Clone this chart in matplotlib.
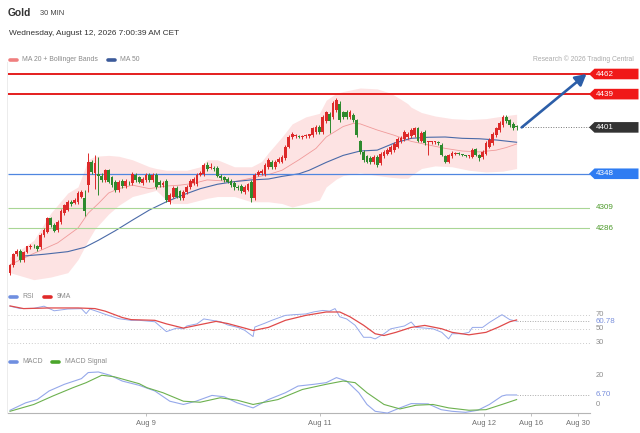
import matplotlib
matplotlib.use("Agg")
import matplotlib.pyplot as plt
from matplotlib.patches import Polygon
import numpy as np

plt.rcParams['font.family'] = ['Liberation Sans', 'DejaVu Sans']

# ---------------- data ----------------
title = "Gold"
timeframe = "30 MIN"
timestamp = "Wednesday, August 12, 2026 7:00:39 AM CET"
credit = "Research \u00a9 2026 Trading Central"

opens = [4235, 4244, 4256, 4260, 4249, 4259, 4264, 4266, 4265, 4264,
         4278, 4282, 4297, 4290, 4284, 4293, 4303, 4307, 4316, 4315,
         4316, 4322, 4320, 4335, 4362, 4349, 4348, 4346, 4341, 4352,
         4344, 4339, 4329, 4340, 4334, 4338, 4337, 4347, 4344, 4337,
         4341, 4347, 4341, 4347, 4339, 4335, 4340, 4316, 4322, 4332,
         4328, 4320, 4327, 4333, 4337, 4336, 4347, 4348, 4358, 4355,
         4355, 4355, 4346, 4344, 4342, 4340, 4337, 4333, 4334, 4327,
         4330, 4339, 4320, 4347, 4349, 4348, 4356, 4362, 4356, 4362,
         4362, 4366, 4379, 4390, 4391, 4391, 4390, 4391, 4391, 4392,
         4396, 4402, 4396, 4408, 4416, 4413, 4421, 4428, 4418, 4419,
         4413, 4415, 4409, 4385, 4373, 4368, 4366, 4361, 4367, 4360,
         4368, 4371, 4373, 4375, 4379, 4385, 4388, 4390, 4391, 4392,
         4400, 4386, 4396, 4384, 4384, 4384, 4384, 4381, 4368, 4362,
         4368, 4371, 4371, 4370, 4369, 4368, 4367.5, 4376, 4369.5, 4367,
         4371, 4379, 4383, 4392, 4398, 4404, 4413, 4409, 4405, 4403]
highs = [4245, 4257, 4262, 4262, 4260, 4266, 4268, 4268, 4267, 4280,
         4286, 4299, 4299, 4292, 4295, 4308, 4314, 4318, 4318, 4320,
         4328, 4329, 4329, 4372, 4364, 4370, 4367, 4349, 4354, 4354,
         4346, 4341, 4341, 4342, 4342, 4340, 4350, 4349, 4346, 4344,
         4349, 4349, 4349, 4349, 4341, 4340, 4342, 4326, 4334, 4334,
         4330, 4329, 4335, 4342, 4344, 4349, 4351, 4360, 4361, 4360,
         4357, 4357, 4348, 4346, 4344, 4342, 4340, 4335, 4336, 4335,
         4338, 4341, 4349, 4352, 4353, 4360, 4366, 4364, 4364, 4367,
         4369, 4381, 4392, 4396, 4393, 4392, 4392, 4393, 4394, 4402,
         4404, 4404, 4415, 4420, 4418, 4431, 4435, 4431, 4420, 4421,
         4421, 4417, 4411, 4387, 4375, 4370, 4368, 4369, 4369, 4373,
         4375, 4377, 4381, 4384, 4390, 4391, 4398, 4396, 4400, 4402,
         4402, 4397, 4398, 4386, 4386, 4386, 4385, 4383, 4370, 4371,
         4374, 4373, 4373, 4371, 4370, 4370, 4377, 4378, 4371, 4375,
         4385, 4389, 4396, 4402, 4408, 4415, 4415, 4411, 4407, 4404]
lows = [4232, 4241, 4254, 4247, 4247, 4257, 4262, 4263, 4260, 4262,
        4276, 4280, 4287, 4281, 4282, 4291, 4301, 4305, 4311, 4313,
        4314, 4320, 4300, 4327, 4348, 4331, 4324, 4339, 4339, 4337,
        4333, 4327, 4327, 4332, 4332, 4335, 4335, 4339, 4337, 4335,
        4339, 4339, 4339, 4331, 4333, 4333, 4316, 4313, 4320, 4320,
        4318, 4318, 4325, 4331, 4335, 4334, 4345, 4346, 4351, 4353,
        4351, 4344, 4341, 4339, 4337, 4333, 4330, 4329, 4326, 4325,
        4328, 4316, 4318, 4345, 4347, 4346, 4354, 4354, 4354, 4360,
        4360, 4364, 4377, 4388, 4389, 4389, 4388, 4389, 4389, 4390,
        4394, 4394, 4394, 4406, 4395, 4411, 4419, 4407, 4411, 4411,
        4411, 4407, 4390, 4371, 4362, 4360, 4359, 4359, 4356, 4358,
        4366, 4369, 4371, 4373, 4377, 4383, 4386, 4388, 4389, 4390,
        4384, 4384, 4381, 4370, 4382, 4382, 4381, 4368, 4360, 4360,
        4366, 4370, 4369, 4368, 4367, 4366, 4366, 4368, 4363, 4365,
        4369, 4377, 4381, 4390, 4396, 4402, 4406, 4402, 4398, 4398]
closes = [4244, 4256, 4260, 4249, 4259, 4265, 4266, 4265, 4262, 4278,
          4284, 4297, 4289, 4283, 4293, 4306, 4312, 4316, 4313, 4318,
          4326, 4327, 4305, 4362, 4350, 4360, 4345, 4341, 4352, 4339,
          4335, 4329, 4339, 4334, 4340, 4337, 4348, 4341, 4339, 4342,
          4347, 4341, 4347, 4333, 4335, 4338, 4318, 4324, 4332, 4322,
          4320, 4327, 4333, 4340, 4342, 4347, 4349, 4358, 4353, 4356,
          4353, 4346, 4343, 4341, 4339, 4335, 4333, 4332, 4328, 4333,
          4336, 4320, 4347, 4350, 4351, 4358, 4364, 4356, 4362, 4365,
          4367, 4379, 4390, 4394, 4391, 4390, 4391, 4392, 4393, 4400,
          4402, 4396, 4413, 4418, 4408, 4429, 4432, 4409, 4413, 4413,
          4419, 4409, 4392, 4373, 4364, 4362, 4361, 4367, 4358, 4371,
          4373, 4375, 4379, 4382, 4388, 4389, 4396, 4394, 4398, 4400,
          4386, 4395, 4383, 4385, 4384, 4385, 4383, 4370, 4362, 4369,
          4372, 4371.5, 4370.5, 4369.5, 4368, 4368.5, 4375, 4370, 4366, 4373,
          4383, 4387, 4394, 4400, 4406, 4413, 4408, 4404, 4400, 4401]

band_idx = [0, 7, 12, 17, 20, 23, 25, 29, 32, 36, 41, 43, 46, 48, 52, 56, 58, 61,
            66, 71, 74, 76, 80, 83, 87, 91, 93, 96, 98, 103, 108, 112, 115, 117,
            118, 121, 125, 130, 135, 140, 145, 149]
band_upper = [4253, 4272, 4303, 4326, 4333, 4364, 4368, 4369, 4368, 4364, 4356, 4354,
              4352, 4352, 4352, 4356, 4364, 4364, 4356, 4356, 4362, 4372, 4390, 4405,
              4413, 4417, 4432, 4440, 4442, 4446, 4445, 4440, 4433, 4428, 4424, 4418,
              4414, 4411, 4410, 4411, 4414, 4416]
band_lower = [4235, 4227, 4230, 4235, 4250, 4272, 4285, 4302, 4312, 4322, 4327, 4329,
              4318, 4314, 4314, 4318, 4320, 4322, 4322, 4316, 4316, 4316, 4314, 4310,
              4314, 4318, 4333, 4342, 4346, 4349, 4346, 4344, 4343, 4343, 4346, 4354,
              4357, 4356, 4352, 4350, 4351, 4354]

ma20_idx = [0, 7, 14, 20, 23, 26, 29, 32, 36, 41, 46, 50, 54, 58, 62, 66, 71, 76, 80,
            85, 90, 93, 98, 101, 103, 108, 113, 118, 123, 128, 133, 138, 143, 146, 149]
ma20 = [4244, 4257, 4269, 4286, 4303, 4314, 4326, 4331, 4335, 4331, 4334, 4335, 4337,
        4341, 4340, 4339, 4343, 4347, 4352, 4364, 4377, 4390, 4402, 4405.6, 4405, 4398,
        4392, 4385, 4381, 4377, 4374, 4373, 4375, 4378, 4382]

ma50_idx = [4, 10, 17, 22, 26, 31, 36, 41, 46, 51, 56, 61, 66, 71, 76, 80, 85, 88, 93,
            98, 103, 108, 113, 118, 123, 128, 133, 138, 143, 149]
ma50 = [4254, 4256, 4259, 4264, 4272, 4283, 4295, 4306.6, 4316, 4324, 4331, 4336, 4339,
        4341, 4342, 4345, 4348, 4352, 4361, 4369, 4374, 4375, 4383, 4388.5, 4389.7, 4390,
        4388.5, 4388, 4386.6, 4384]

level_values = [4462, 4439, 4401, 4348, 4309, 4286]
level_kinds = ["resistance", "resistance", "last", "pivot", "support", "support"]
target_level = 4462

rsi_idx = [0, 3, 7, 10, 13, 17, 21, 22.4, 23.5, 26, 28, 32, 35.6, 38, 42.6, 46, 49, 51,
           52, 55, 57, 59.4, 62, 64, 67, 69, 71.5, 72, 75, 77, 81, 83.5, 87, 89.4, 92,
           94, 95.6, 97, 99, 101.5, 104, 106, 107.4, 110, 112, 116, 118, 119.4, 122,
           124.4, 127, 129, 130, 133, 135, 136, 139, 141, 144.7, 147, 149]
rsi = [82, 78.6, 79, 82, 75.5, 78, 78.5, 71.5, 78, 74, 70.5, 64.3, 62, 62, 60, 46, 51,
       50, 54, 57, 64, 62, 60, 55.5, 52, 48, 39, 52.5, 58, 62, 69, 70, 71, 74, 76, 75,
       78.6, 67, 64, 55, 38, 38, 35.7, 43, 50, 54, 59.6, 52, 51, 50, 45, 35.7, 43, 43,
       45, 52, 52, 59, 70, 63, 60.8]
ma9_idx = [0, 4, 11.5, 20, 25, 28, 33, 35.6, 42.6, 46, 51, 55, 60.6, 64, 69, 71.5, 76,
           81, 87, 93, 97, 100, 104, 107.4, 110, 113.5, 118, 122, 127, 130, 135, 140,
           143.5, 147, 149]
ma9 = [82.4, 78.6, 79.5, 79.5, 78.6, 75, 66, 63, 62, 57, 51, 55, 60.5, 57.5, 51, 47.6,
       52, 62, 69, 73.8, 73.8, 67, 55, 43, 40.5, 45, 52, 54.8, 50, 45, 41.5, 45, 52, 60,
       62.5]
rsi_last = 60.78
rsi_grid = [70, 50, 30]

macd_idx = [0, 4.6, 8, 11.5, 16, 21, 23, 26, 29.4, 33, 38, 42.6, 47, 51, 54.7, 59.4, 63,
            66.8, 71.5, 76, 81, 84.7, 89.4, 93, 96, 99, 102.6, 105, 107.4, 111, 114.7,
            118, 123, 126.8, 130, 134, 137.6, 141, 144.7, 146, 149]
macd = [-3.6, 1.4, 3.6, 9.4, 13.9, 17.7, 21.8, 22.2, 20, 16.1, 13.2, 9.4, 2.5, 0.3, 2.5,
        6.4, 5.5, 1.4, -2, 3.6, 8.2, 12.7, 13.9, 15, 18.4, 16.1, 8.2, 0.3, -4.3, -5.5,
        -2, 0.9, 0.7, -3.2, -4.3, -5, -3.6, 0.3, 6, 6.7, 6.7]
signal_idx = [0, 7, 12.6, 18.5, 22.4, 27, 30.6, 38, 40.3, 45, 51, 55.9, 61.8, 66.8, 71.5,
              78.8, 86, 93, 98, 101.5, 105, 110, 114.7, 119.4, 124.4, 129, 135, 140,
              144.7, 149]
signal = [-4.3, 0.3, 6, 11.6, 15, 20, 19, 14.3, 11.6, 8.2, 2.5, 1.8, 4.8, 3.2, 0.3, 3.6,
          10.4, 13.9, 16.1, 15, 8.2, 0.3, -2.7, -0.2, 0.3, -2, -3.6, -3.2, 0.3, 3.6]
macd_last = 6.70
macd_grid = [20, 0]

date_ticks = [40, 91.2, 139.4, 153.2, 167]
date_labels = ["Aug 9", "Aug 11", "Aug 12", "Aug 16", "Aug 30"]

# ---------------- layout ----------------
W, H = 640, 433
X_LEFT, X_RIGHT = 8, 590
STEP, FIRST = 3.4, 10


def xd(px):
    return (px - FIRST) / STEP


XLIM = (xd(X_LEFT), xd(X_RIGHT))

fig = plt.figure(figsize=(W / 100, H / 100), dpi=100)
fig.patch.set_facecolor("white")


def panel(top, bottom, ylim):
    a = fig.add_axes([X_LEFT / W, 1 - bottom / H, (X_RIGHT - X_LEFT) / W, (bottom - top) / H])
    a.set_facecolor("none")
    a.set_xlim(*XLIM)
    a.set_ylim(*ylim)
    for s in a.spines.values():
        s.set_visible(False)
    a.set_xticks([])
    a.set_yticks([])
    return a


ax = panel(62, 285, (4220.9, 4475.7))
ax_rsi = panel(298, 350, (20, 93.6))
ax_macd = panel(365, 413, (-5.45, 26.9))

ov = fig.add_axes([0, 0, 1, 1], zorder=5)
ov.set_xlim(0, W)
ov.set_ylim(H, 0)
ov.axis("off")


def ypx(a, v):
    return H - a.transData.transform((0, v))[1]


# ---------------- header ----------------
ov.text(8, 13.5, title, fontsize=7.4, fontweight="bold", color="#333333", va="center")
ov.text(39.5, 13.5, timeframe, fontsize=5.4, color="#444444", va="center")
ov.text(9, 33.5, timestamp, fontsize=5.95, color="#333333", va="center")


def swatch(x, y, color):
    ov.plot([x, x + 6.5], [y, y], color=color, lw=2.6, solid_capstyle="round")


swatch(10, 59.5, "#f07f7f")
ov.text(22.5, 59.5, "MA 20 + Bollinger Bands", fontsize=4.95, color="#8a8a8a", va="center")
swatch(108, 59.5, "#3c5a9a")
ov.text(120.5, 59.5, "MA 50", fontsize=4.95, color="#8a8a8a", va="center")
ov.text(634, 59.5, credit, fontsize=4.9, color="#ababab", va="center", ha="right")

# faint left frame line
ov.plot([7, 7], [62, 413], color="#ececec", lw=0.7)

# ---------------- main price panel ----------------
x = np.arange(len(closes))
o = np.array(opens, float)
c = np.array(closes, float)
hi = np.array(highs, float)
lo = np.array(lows, float)
up = c >= o
cols = np.where(up, "#dd2a2a", "#2e8a2e")

ax.fill_between(band_idx, band_lower, band_upper, color="#fde3e3", lw=0, zorder=1)
ax.plot(ma20_idx, ma20, color="#f09a9a", lw=0.6, zorder=2)
ax.plot(ma50_idx, ma50, color="#4a6aa8", lw=0.8, zorder=2)

ax.vlines(x, lo, hi, colors=cols, lw=0.7, zorder=3)
ax.bar(x, np.maximum(np.abs(c - o), 1.0), bottom=np.minimum(o, c), width=0.85,
       color=cols, lw=0, zorder=4)

line_style = {
    "resistance": dict(color="#e41e1e", lw=1.4),
    "pivot": dict(color="#4f86e0", lw=0.9),
    "support": dict(color="#a9d695", lw=0.8),
}
box_color = {"resistance": "#f01818", "last": "#333333", "pivot": "#2f7cf2"}

for val, kind in zip(level_values, level_kinds):
    if kind == "last":
        ax.hlines(val, len(closes) - 1 + 1.0, XLIM[1], colors="#777777", lw=0.7,
                  linestyles=(0, (1, 1.6)), zorder=2)
    else:
        ax.hlines(val, XLIM[0], XLIM[1], zorder=2, **line_style[kind])
    yy = ypx(ax, val)
    if kind == "support":
        ov.text(595.5, yy, f"{val}", fontsize=5.8, color="#4c9a2a", va="center")
    else:
        poly = Polygon([(589, yy), (594.5, yy - 5.3), (638.5, yy - 5.3), (638.5, yy + 5.3),
                        (594.5, yy + 5.3)], closed=True, fc=box_color[kind], ec="none")
        ov.add_patch(poly)
        ov.text(596, yy + 0.2, f"{val}", fontsize=5.8, color="white", va="center")

ax.annotate("", xy=(xd(586.5), target_level), xytext=(len(closes) - 1 + 1.5, closes[-1]),
            arrowprops=dict(arrowstyle="-|>,head_length=0.55,head_width=0.3",
                            color="#2c5ea8", lw=1.9, shrinkA=0, shrinkB=0,
                            mutation_scale=12),
            annotation_clip=False, zorder=6)

# ---------------- RSI panel ----------------
for g in rsi_grid:
    ax_rsi.axhline(g, color="#cccccc", lw=0.7, ls=(0, (1, 2)))
    ov.text(595.5, ypx(ax_rsi, g), f"{g}", fontsize=5.4, color="#8c8c8c", va="center")
ax_rsi.plot(rsi_idx, rsi, color="#95a8ea", lw=0.7, zorder=3)
ax_rsi.plot(ma9_idx, ma9, color="#e04a4a", lw=0.9, zorder=4)
ax_rsi.hlines(rsi_last, rsi_idx[-1], XLIM[1], colors="#aaaaaa", lw=0.7, linestyles=(0, (1, 1.6)))
ov.text(595.5, ypx(ax_rsi, rsi_last), f"{rsi_last:.2f}", fontsize=5.7, color="#7a90dc", va="center")

swatch(10, 297, "#6f8fe0")
ov.text(22.5, 297, "RSI", fontsize=4.95, color="#8a8a8a", va="center")
swatch(44, 297, "#e02a2a")
ov.text(56.5, 297, "9MA", fontsize=4.95, color="#8a8a8a", va="center")

# ---------------- MACD panel ----------------
ax_macd.plot(macd_idx, macd, color="#95a8ea", lw=0.8, zorder=3, clip_on=False)
ax_macd.plot(signal_idx, signal, color="#6db14f", lw=0.8, zorder=3, clip_on=False)
ax_macd.hlines(macd_last, macd_idx[-1], XLIM[1], colors="#aaaaaa", lw=0.7, linestyles=(0, (1, 1.6)))
for g in macd_grid:
    ov.text(595.5, ypx(ax_macd, g), f"{g}", fontsize=5.4, color="#8c8c8c", va="center")
ov.text(595.5, ypx(ax_macd, macd_last), f"{macd_last:.2f}", fontsize=5.7, color="#7a90dc", va="center")

swatch(10, 361.5, "#6f8fe0")
ov.text(22.5, 361.5, "MACD", fontsize=4.95, color="#8a8a8a", va="center")
swatch(52, 361.5, "#4aa52a")
ov.text(65, 361.5, "MACD Signal", fontsize=4.95, color="#8a8a8a", va="center")

ax_macd.spines["bottom"].set_visible(True)
ax_macd.spines["bottom"].set_color("#b5b5b5")
ax_macd.spines["bottom"].set_linewidth(0.8)
ax_macd.set_xticks(date_ticks)
ax_macd.set_xticklabels(date_labels)
ax_macd.tick_params(axis="x", length=2.5, width=0.6, color="#b5b5b5", labelsize=5.4,
                    labelcolor="#6f6f6f", pad=2.5)

fig.savefig("out.png", dpi=100, facecolor="white")
